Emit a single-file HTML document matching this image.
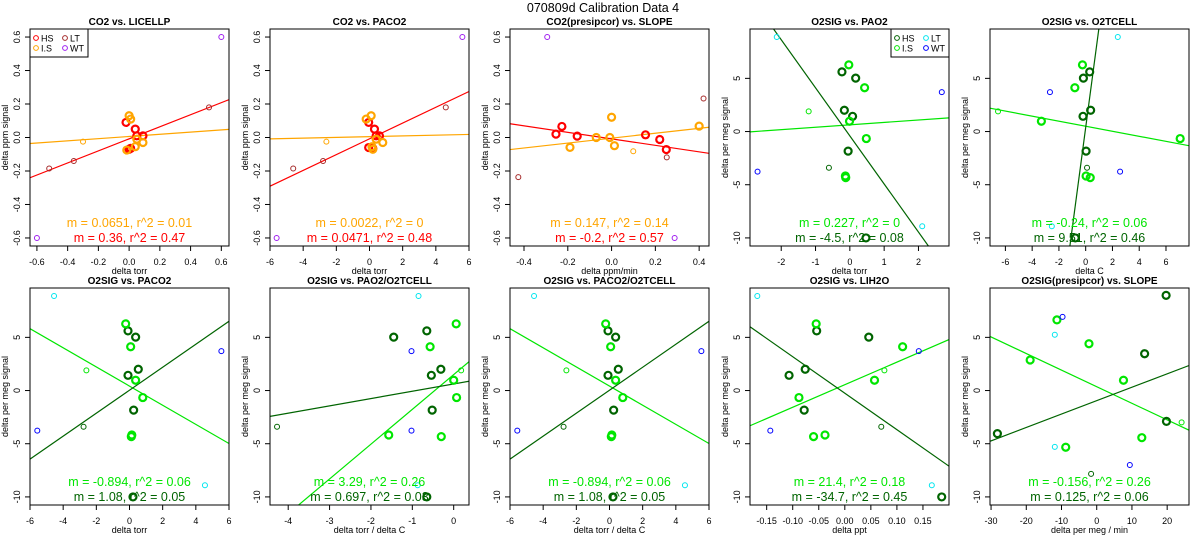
<!DOCTYPE html>
<html><head><meta charset="utf-8"><style>
html,body{margin:0;padding:0;background:#fff;overflow:hidden;width:1200px;height:550px;}
svg{display:block;font-family:"Liberation Sans",sans-serif;}
</style></head><body>
<svg id="chart" width="1200" height="550" viewBox="0 0 1200 550" xmlns="http://www.w3.org/2000/svg">
<text x="603" y="12" font-size="12.5" text-anchor="middle">070809d   Calibration Data 4</text>
</svg>
<script>
// ---- data ----
const p1x = [-0.02,0.04,0.05,0.09,0.01,0.0, 0.0,0.01,0.05,0.09,0.04,-0.015, -0.3, -0.52,-0.36,0.52, 0.6,-0.6];
const p1y = [0.09,0.05,0.01,0.01,-0.065,-0.07, 0.13,0.11,-0.01,-0.03,-0.055,-0.075, -0.025, -0.185,-0.14,0.18, 0.6,-0.6];
const p2x = [-0.05,0.3,0.4,0.6,-0.05,0.2, -0.2,0.1,0.4,0.8,0.15,0.2, -2.6, -4.6,-2.8,4.6, 5.6,-5.6];
const p2y = [0.09,0.05,0.01,0.01,-0.06,-0.065, 0.11,0.13,-0.01,-0.03,-0.055,-0.07, -0.025, -0.185,-0.14,0.18, 0.6,-0.6];
const p3x = [-0.254,-0.227,-0.157,0.155,0.22,0.25, -0.19,-0.07,-0.008,0,0.013,0.40, 0.099, -0.426,0.252,0.42, -0.294,0.288];
const p3y = [0.02,0.066,0.008,0.016,-0.012,-0.072, -0.059,0,0,0.121,-0.049,0.068, -0.082, -0.237,-0.119,0.233, 0.6,-0.6];
const co2Groups = "HHHHHHLLLLLLlTTTWW";

const o2y = [5.61,5.02,2.0,1.43,-1.84,-10, 6.27,4.12,0.97,-0.66,-4.18,-4.33, 1.9,-3.4, 8.89,-8.9, -3.77,3.71];
const o2Groups = "HHHHHHLLLLLLlhTTWW";
const p4x = [-0.23,0.17,-0.16,0.08,-0.05,0.47, -0.03,0.43,-0.01,0.48,-0.13,-0.12, -1.2,-0.61, -2.13,2.11, -2.69,2.68];
const p5x = [0.3,-0.17,0.37,-0.2,0.03,-0.78, -0.24,-0.81,-3.31,7.06,0.03,0.34, -6.55,0.1, 2.4,-2.53, 2.57,-2.67];
const p6x = [-0.09,0.37,0.53,-0.09,0.25,0.21, -0.23,0.07,0.37,0.8,0.14,0.11, -2.6,-2.77, -4.55,4.55, -5.56,5.54];
const p7x = [-0.65,-1.45,-0.31,-0.54,-0.52,-0.65, 0.06,-0.57,0,0.07,-1.57,-0.3, 0.18,-4.27, -0.85,-0.87, -1.02,-1.02];
const p9x = [-0.054,0.046,-0.076,-0.107,-0.078,0.186, -0.055,0.111,0.057,-0.088,-0.038,-0.06, 0.076,0.07, -0.168,0.167, -0.143,0.142];
const p10x = [19.7,13.6,-28.2,19.8, -11.3,-18.9,-2.2,7.6,12.8,-8.8, 24.1,-1.6, -11.9,-11.9, -9.7,9.4];
const p10y = [8.95,3.46,-4.05,-2.9, 6.64,2.87,4.4,0.97,-4.43,-5.33, -2.99,-7.83, 5.24,-5.3, 6.93,-7.0];
const p10Groups = "HHHHLLLLLLlhTTWW";

// fit lines: [LS, HS]
const fitSlopes = [[0.0651,0.36],[0.0022,0.0471],[0.147,-0.194],[0.227,-4.52],[-0.237,9.44],[-0.9,1.08],[3.27,0.686],[-0.9,1.08],[21.2,-34.3],[-0.156,0.126]];
const fitIntercepts = [[0.006,-0.008],[0.005,-0.008],[-0.004,-0.008],[0.63,-0.41],[0.5,0.38],[0.42,0.03],[1.5,0.62],[0.42,0.03],[0.55,-0.25],[0.36,-0.95]];
const statsLS = ["m = 0.0651, r^2 = 0.01","m = 0.0022, r^2 = 0","m = 0.147, r^2 = 0.14","m = 0.227, r^2 = 0","m = -0.24, r^2 = 0.06","m = -0.894, r^2 = 0.06","m = 3.29, r^2 = 0.26","m = -0.894, r^2 = 0.06","m = 21.4, r^2 = 0.18","m = -0.156, r^2 = 0.26"];
const statsHS = ["m = 0.36, r^2 = 0.47","m = 0.0471, r^2 = 0.48","m = -0.2, r^2 = 0.57","m = -4.5, r^2 = 0.08","m = 9.51, r^2 = 0.46","m = 1.08, r^2 = 0.05","m = 0.697, r^2 = 0.03","m = 1.08, r^2 = 0.05","m = -34.7, r^2 = 0.45","m = 0.125, r^2 = 0.06"];
const titles = ["CO2 vs. LICELLP","CO2 vs. PACO2","CO2(presipcor) vs. SLOPE","O2SIG vs. PAO2","O2SIG vs. O2TCELL","O2SIG vs. PACO2","O2SIG vs. PAO2/O2TCELL","O2SIG vs. PACO2/O2TCELL","O2SIG vs. LIH2O","O2SIG(presipcor) vs. SLOPE"];
const xTitles = ["delta torr","delta torr","delta ppm/min","delta torr","delta C","delta torr","delta torr / delta C","delta torr / delta C","delta ppt","delta per meg / min"];
const yTitles = ["delta ppm signal","delta ppm signal","delta ppm signal","delta per meg signal","delta per meg signal","delta per meg signal","delta per meg signal","delta per meg signal","delta per meg signal","delta per meg signal"];
const xTicks = [[-0.6,-0.4,-0.2,0,0.2,0.4,0.6],[-6,-4,-2,0,2,4,6],[-0.4,-0.2,0,0.2,0.4],[-2,-1,0,1,2],[-6,-4,-2,0,2,4,6],[-6,-4,-2,0,2,4,6],[-4,-3,-2,-1,0],[-6,-4,-2,0,2,4,6],[-0.15,-0.10,-0.05,0,0.05,0.10,0.15],[-30,-20,-10,0,10,20]];
const xTickLabels = [["-0.6","-0.4","-0.2","0.0","0.2","0.4","0.6"],["-6","-4","-2","0","2","4","6"],["-0.4","-0.2","0.0","0.2","0.4"],["-2","-1","0","1","2"],["-6","-4","-2","0","2","4","6"],["-6","-4","-2","0","2","4","6"],["-4","-3","-2","-1","0"],["-6","-4","-2","0","2","4","6"],["-0.15","-0.10","-0.05","0.00","0.05","0.10","0.15"],["-30","-20","-10","0","10","20"]];
const xLims = [[-0.645,0.65],[-6,6],[-0.464,0.445],[-2.91,2.89],[-7.15,7.72],[-6,6],[-4.44,0.37],[-6,6],[-0.182,0.2],[-30.3,26.2]];
const co2YTicks = [-0.6,-0.4,-0.2,0,0.2,0.4,0.6];
const co2YTickLabels = ["-0.6","-0.4","-0.2","0.0","0.2","0.4","0.6"];
const o2YTicks = [-10,-5,0,5];
const o2YTickLabels = ["-10","-5","0","5"];
const co2YLim = [-0.648,0.648];
const o2YLim = [-10.76,9.64];

// ---- drawing ----
const svg = document.getElementById('chart');
const NS = 'http://www.w3.org/2000/svg';
const L0 = 30, CW = 240, T0 = 29, RH = 259, W = 199, H = 217;
const co2Col = {H:'#ff0000',L:'#ffa500',h:'#ff0000',l:'#ffa500',T:'#a52a2a',W:'#a020f0'};
const o2Col = {H:'#006400',L:'#00e600',h:'#006400',l:'#00e600',T:'#00e5ee',W:'#0000ff'};
function mk(tag, attrs, parent){const e=document.createElementNS(NS,tag);for(const k in attrs)e.setAttribute(k,attrs[k]);(parent||svg).appendChild(e);return e;}

const panelX = [p1x,p2x,p3x,p4x,p5x,p6x,p7x,p6x,p9x,p10x];
const panelY = [p1y,p2y,p3y,o2y,o2y,o2y,o2y,o2y,o2y,p10y];
const panelG = [co2Groups,co2Groups,co2Groups,o2Groups,o2Groups,o2Groups,o2Groups,o2Groups,o2Groups,p10Groups];

for(let i=0;i<10;i++){
  const r=Math.floor(i/5), c=i%5, L=L0+c*CW, T=T0+r*RH, B=T+H, R=L+W;
  const isCO2 = i<3;
  const yl = isCO2?co2YLim:o2YLim, xl = xLims[i];
  const sx = v=>L+(v-xl[0])/(xl[1]-xl[0])*W;
  const sy = v=>B-(v-yl[0])/(yl[1]-yl[0])*H;
  const cols = isCO2?co2Col:o2Col;
  const g = mk('g',{});
  
  
  const clip = mk('clipPath',{id:'clip'+i},g);
  mk('rect',{x:L,y:T,width:W,height:H},clip);
  const t = mk('text',{x:L+W/2,y:T-4,'font-size':10,'font-weight':'bold','text-anchor':'middle'},g);
  t.textContent = titles[i];
  
  
  xTicks[i].forEach((v,k)=>{
    const x=sx(v);
    const tk=mk('line',{x1:x,x2:x,y1:B,y2:B+5,stroke:'#000','stroke-width':1},g);
    
    
    const tl=mk('text',{x:x,y:B+19,'font-size':9,'text-anchor':'middle'},g);
    tl.textContent=xTickLabels[i][k];
    
    
  });
  const yt = isCO2?co2YTicks:o2YTicks, ytl = isCO2?co2YTickLabels:o2YTickLabels;
  yt.forEach((v,k)=>{
    const y=sy(v);
    const tk=mk('line',{x1:L-5,x2:L,y1:y,y2:y,stroke:'#000','stroke-width':1},g);
    
    
    const tl=mk('text',{x:L-10,y:y,'font-size':9,'text-anchor':'middle',transform:`rotate(-90 ${L-10} ${y})`},g);
    tl.textContent=ytl[k];
    
    
  });
  const xt=mk('text',{x:L+W/2,y:B+28,'font-size':9,'text-anchor':'middle'},g);
  xt.textContent=xTitles[i];
  
  
  const yc=T+H/2, yx=L-22;
  const ytt=mk('text',{x:yx,y:yc,'font-size':9,'text-anchor':'middle',transform:`rotate(-90 ${yx} ${yc})`},g);
  ytt.textContent=yTitles[i];
  
  
  const cg = mk('g',{'clip-path':`url(#clip${i})`},g);
  [0,1].forEach(j=>{
    const m=fitSlopes[i][j], b=fitIntercepts[i][j];
    const ln=mk('line',{x1:sx(xl[0]),y1:sy(m*xl[0]+b),x2:sx(xl[1]),y2:sy(m*xl[1]+b),stroke:j===0?cols.L:cols.H,'stroke-width':1.2},cg);
    
    
  });
  const xs=panelX[i], ys=panelY[i], gs=panelG[i];
  xs.forEach((v,k)=>{
    const grp=gs[k], thick=(grp==='H'||grp==='L');
    const pt=mk('circle',{cx:sx(v),cy:sy(ys[k]),r:thick?3.5:2.5,fill:'none',stroke:cols[grp],'stroke-width':thick?2.2:1},cg);
    
    
  });
  const s1=mk('text',{x:L+W/2,y:T+198,'font-size':12.5,'text-anchor':'middle',fill:cols.L},g);
  s1.textContent=statsLS[i];
  
  
  const s2=mk('text',{x:L+W/2,y:T+213,'font-size':12.5,'text-anchor':'middle',fill:cols.H},g);
  s2.textContent=statsHS[i];
  
  
  const fr=mk('rect',{x:L,y:T,width:W,height:H,fill:'none',stroke:'#000','stroke-width':1},g);
  
  
  if(i===0||i===3){
    const lx = i===0?L:R-58, ly=T;
    const lg=mk('g',{},g);
    
    
    mk('rect',{x:lx,y:ly,width:58,height:28,fill:'#fff',stroke:'#000','stroke-width':1},lg);
    const ents=[['HS','H',0,0],['LT','T',29,0],['I.S','L',0,1],['WT','W',29,1]];
    ents.forEach(e=>{
      const ey=ly+9+e[3]*10, ex=lx+6+e[2];
      const ec=mk('circle',{cx:ex,cy:ey,r:2.4,fill:'none',stroke:cols[e[1]],'stroke-width':1},lg);
      
      
      const et=mk('text',{x:ex+5,y:ey+3.5,'font-size':9},lg);
      et.textContent=e[0];
      
      
    });
  }
}
</script>
</body></html>
